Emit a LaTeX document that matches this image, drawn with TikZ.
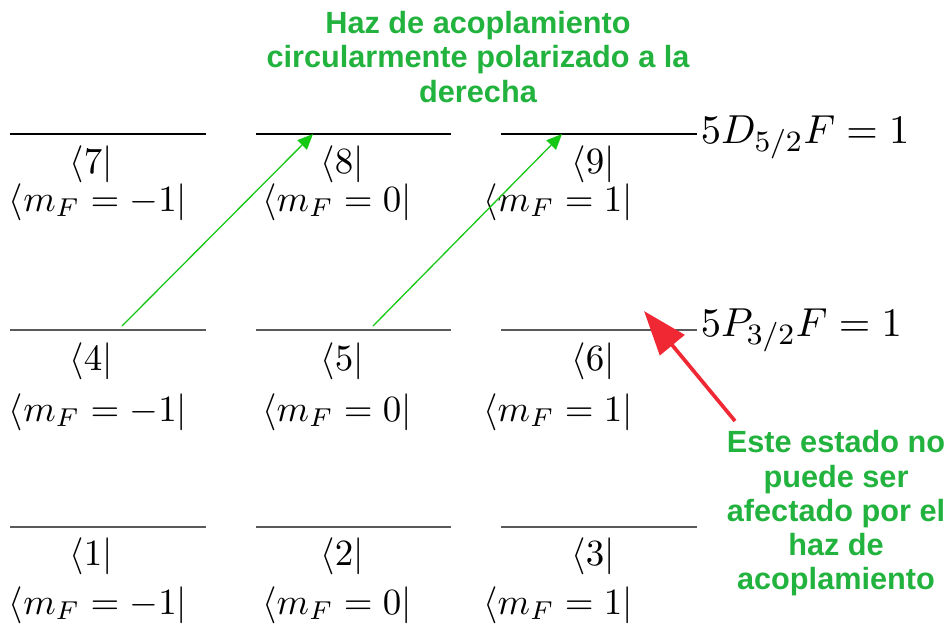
\documentclass[tikz,border=0pt]{standalone}
\usepackage{fontspec}
\newfontfamily\notefont{Liberation Sans}
\usetikzlibrary{arrows.meta,positioning}
\usepackage{xcolor}
\definecolor{notegreen}{RGB}{34,178,62}
\definecolor{beamgreen}{RGB}{110,205,110}
\definecolor{headgreen}{RGB}{20,200,20}
\definecolor{warnred}{RGB}{240,40,52}
\definecolor{levelgray}{RGB}{90,90,90}

\begin{document}
\begin{tikzpicture}[
  x=0.0095cm, y=-0.0095cm,
  lvl/.style={minimum width=1.862cm, minimum height=0pt, inner sep=0pt, outer sep=0pt},
  ket/.style={anchor=base, inner sep=0pt, font=\normalsize},
  term/.style={anchor=base west, inner sep=0pt, font=\fontsize{10.8}{13}\selectfont},
  note/.style={text=notegreen, align=center, inner sep=0pt, font=\notefont\bfseries\fontsize{8.3}{9.2}\selectfont},
  beam/.style={draw=beamgreen, line width=0.35pt, -{Triangle[length=4.2pt, width=3.6pt, fill=headgreen]}, headgreen},
  warn/.style={draw=warnred, line width=1pt, -{Triangle[length=12pt, width=8.5pt]}, warnred}
]
\useasboundingbox (0,0) rectangle (949,623);

% energy levels
\node[lvl] (l7) at (108,134) {};
\node[lvl] (l8) at (353.5,134) {};
\node[lvl] (l9) at (599,134) {};
\node[lvl] (l4) at (108,330) {};
\node[lvl] (l5) at (353.5,330) {};
\node[lvl] (l6) at (599,330) {};
\node[lvl] (l1) at (108,527) {};
\node[lvl] (l2) at (353.5,527) {};
\node[lvl] (l3) at (599,527) {};
\draw[black, line width=0.4pt] (l7.west) -- (l7.east) (l8.west) -- (l8.east) (l9.west) -- (l9.east);
\draw[levelgray, line width=0.4pt] (l4.west) -- (l4.east) (l5.west) -- (l5.east) (l6.west) -- (l6.east);
\draw[levelgray, line width=0.4pt] (l1.west) -- (l1.east) (l2.west) -- (l2.east) (l3.west) -- (l3.east);

% labels
\node[ket] (k7) at (91,173) {$\langle 7|$};
\node[ket] (m7) at (98,211) {$\langle m_F=-1|$};
\node[ket] (k8) at (342,173) {$\langle 8|$};
\node[ket] (m8) at (337,211) {$\langle m_F=0|$};
\node[ket] (k9) at (593,173) {$\langle 9|$};
\node[ket] (m9) at (558,211) {$\langle m_F=1|$};
\node[ket] (k4) at (91,370) {$\langle 4|$};
\node[ket] (m4) at (98,421) {$\langle m_F=-1|$};
\node[ket] (k5) at (342,370) {$\langle 5|$};
\node[ket] (m5) at (337,421) {$\langle m_F=0|$};
\node[ket] (k6) at (593,370) {$\langle 6|$};
\node[ket] (m6) at (558,421) {$\langle m_F=1|$};
\node[ket] (k1) at (91,565) {$\langle 1|$};
\node[ket] (m1) at (98,614) {$\langle m_F=-1|$};
\node[ket] (k2) at (342,565) {$\langle 2|$};
\node[ket] (m2) at (337,614) {$\langle m_F=0|$};
\node[ket] (k3) at (593,565) {$\langle 3|$};
\node[ket] (m3) at (558,614) {$\langle m_F=1|$};

\node[term] (dlvl) at (700,143) {$5D_{5/2}F=1$};
\node[term] (plvl) at (700,336) {$5P_{3/2}F=1$};

% notes
\node[note, anchor=north] (beamnote) at (478,11) {Haz de acoplamiento\\circularmente polarizado a la\\derecha};
\node[note, anchor=north] (warnnote) at (836,430) {Este estado no\\puede ser\\afectado por el\\haz de\\acoplamiento};

% coupling beam
\coordinate (b4) at (122,326);
\coordinate (b8) at (313,134);
\coordinate (b5) at (373,326);
\coordinate (b9) at (562,134);
\draw[beam] (b4) -- (b8);
\draw[beam] (b5) -- (b9);

\coordinate (w0) at (735,421);
\coordinate (w6) at (644,311);
\draw[warn] (w0) -- (w6);
\end{tikzpicture}
\end{document}
